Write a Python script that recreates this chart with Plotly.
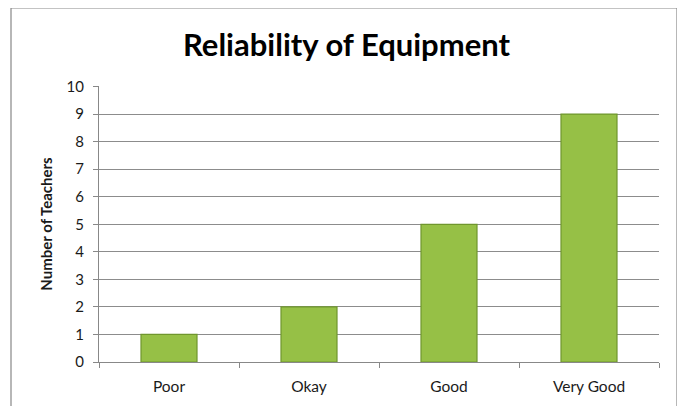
import plotly.graph_objects as go

categories = ["Poor", "Okay", "Good", "Very Good"]
teachers = [1, 2, 5, 9]
y_ticks = list(range(0, 11))

# page has an 8px body margin; figure coordinates are page - 8
OFF = 8
W, H = 685 - OFF, 406 - OFF
L, T = 99 - OFF, 86 - OFF
R = W - (659 - OFF)
B = H - (362 - OFF)
pw, ph = W - L - R, H - T - B

def px(x):
    return (x - OFF - L) / pw

def py(y):
    return (H - B - (y - OFF)) / ph

fig = go.Figure(go.Bar(
    x=categories, y=teachers,
    marker=dict(color="#96c046", line=dict(color="#6f962d", width=1.2)),
    width=0.4,
))

fig.update_layout(
    width=W, height=H,
    margin=dict(l=L, r=R, t=T, b=B),
    paper_bgcolor="white", plot_bgcolor="white",
    showlegend=False,
    title=dict(text="<b>Reliability of Equipment</b>", x=0.5, xanchor="center",
               y=1 - (45 - OFF) / H, yanchor="middle",
               font=dict(family="Lato, Open Sans, sans-serif", size=31, color="black")),
    font=dict(family="Lato, Open Sans, sans-serif", size=15, color="#1a1a1a"),
    xaxis=dict(showline=True, linecolor="#888", linewidth=1, ticks="outside",
               tickson="boundaries", ticklen=5, tickcolor="#888", automargin=False,
               showgrid=False, tickfont=dict(size=15.5), ticklabelstandoff=10),
    yaxis=dict(range=[0, 10.02], tickvals=y_ticks, showline=True, linecolor="#888",
               ticks="outside", ticklen=5, tickcolor="#888", automargin=False,
               gridcolor="#8c8c8c", gridwidth=1, zeroline=False,
               tickfont=dict(size=15), ticklabelstandoff=6,
               title=dict(text="<b>Number of Teachers</b>", font=dict(size=15), standoff=10)),
    shapes=[dict(type="rect", xref="paper", yref="paper",
                 x0=px(11), x1=px(677), y0=py(8), y1=py(420),
                 line=dict(color="#888", width=1.2), fillcolor="rgba(0,0,0,0)", layer="below")],
)

fig.write_html("out.html")
